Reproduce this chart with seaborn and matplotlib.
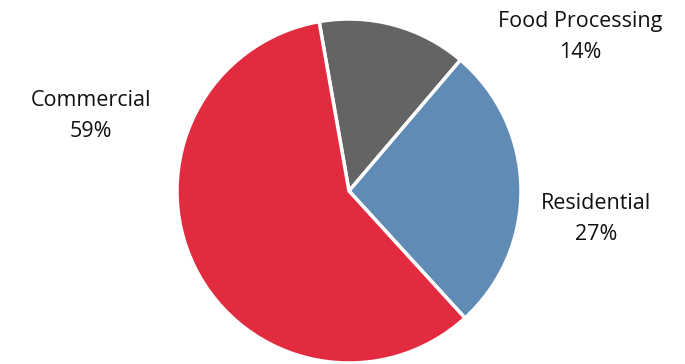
import matplotlib
matplotlib.use("Agg")
import matplotlib.pyplot as plt
import seaborn as sns

categories = ["Food Processing", "Residential", "Commercial"]
shares = [14, 27, 59]
colors = ["#646464", "#5F8BB5", "#E32B3F"]

sns.set_theme(style="white")
plt.rcParams['font.family'] = ['Open Sans', 'DejaVu Sans']

fig = plt.figure(figsize=(6.85, 3.64), dpi=100)
ax = fig.add_axes([0, 0, 1, 1])
ax.set_xlim(0, 685)
ax.set_ylim(0, 364)
ax.set_aspect('equal')
ax.axis('off')

ax.pie(shares, colors=colors, startangle=100, counterclock=False,
       center=(349, 173), radius=172,
       wedgeprops=dict(edgecolor='white', linewidth=2.5))

label_pos = {"Food Processing": (580, 327), "Residential": (596, 145), "Commercial": (91, 248)}
for cat, val in zip(categories, shares):
    x, y = label_pos[cat]
    ax.text(x, y, f"{cat}\n{val}%", ha='center', va='center', fontsize=15.5,
            color='#111111', linespacing=1.6)

ax.set_xlim(0, 685)
ax.set_ylim(0, 364)
fig.savefig("out.png", dpi=100)
